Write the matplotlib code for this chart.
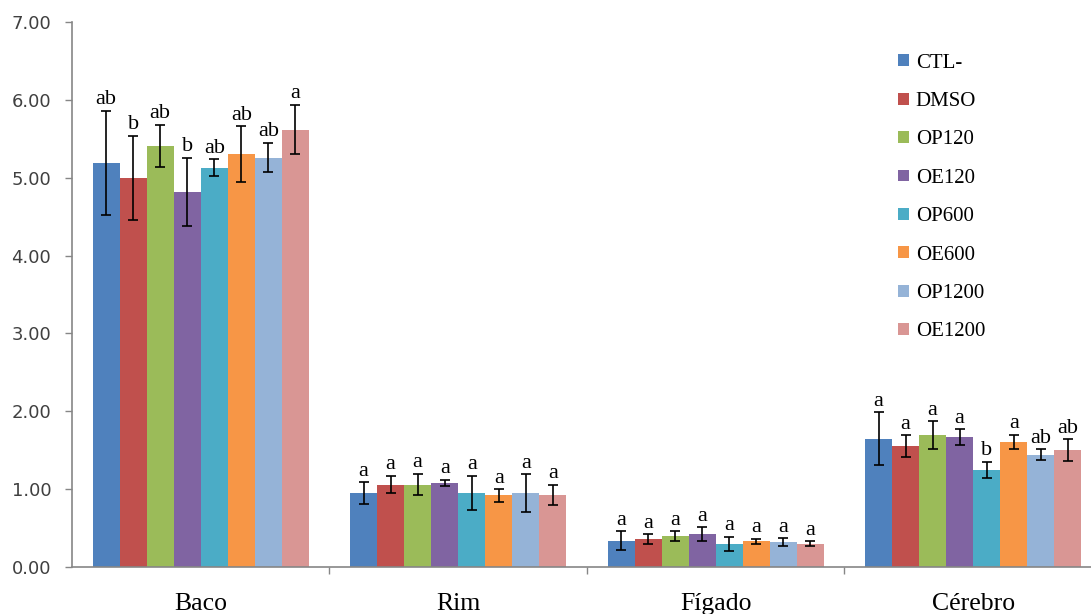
import numpy as np
import matplotlib
matplotlib.use('Agg')
import matplotlib.pyplot as plt

orgaos = ['Baco', 'Rim', 'Fígado', 'Cérebro']
grupos = ['CTL-', 'DMSO', 'OP120', 'OE120', 'OP600', 'OE600', 'OP1200', 'OE1200']
cores = ['#4F81BD', '#C0504D', '#9BBB59', '#8064A2', '#4BACC6', '#F79646', '#95B3D7', '#D99694']

# medias por orgao (linhas) e grupo (colunas)
media = [
    [5.19, 5.00, 5.41, 4.82, 5.13, 5.30, 5.26, 5.62],
    [0.95, 1.06, 1.06, 1.08, 0.95, 0.92, 0.95, 0.93],
    [0.34, 0.36, 0.40, 0.42, 0.30, 0.33, 0.32, 0.30],
    [1.65, 1.55, 1.69, 1.67, 1.25, 1.61, 1.44, 1.50],
]
# desvio padrao
dp = [
    [0.67, 0.54, 0.27, 0.44, 0.11, 0.36, 0.19, 0.32],
    [0.14, 0.11, 0.14, 0.04, 0.22, 0.08, 0.24, 0.13],
    [0.12, 0.06, 0.06, 0.09, 0.09, 0.03, 0.05, 0.03],
    [0.34, 0.14, 0.18, 0.10, 0.10, 0.09, 0.07, 0.14],
]
# letras do teste estatistico
letras = [
    ['ab', 'b', 'ab', 'b', 'ab', 'ab', 'ab', 'a'],
    ['a', 'a', 'a', 'a', 'a', 'a', 'a', 'a'],
    ['a', 'a', 'a', 'a', 'a', 'a', 'a', 'a'],
    ['a', 'a', 'a', 'a', 'b', 'a', 'ab', 'ab'],
]

media = np.array(media)
dp = np.array(dp)

fig = plt.figure(figsize=(10.91, 6.14), dpi=100)
ax = fig.add_axes([0.066, 0.0765, 0.944, 0.8875])

serif = 'Liberation Serif'
x = np.arange(len(orgaos))
larg = 0.105
for j, g in enumerate(grupos):
    pos = x + (j - 3.5) * larg
    ax.bar(pos, media[:, j], larg, color=cores[j], label=g, zorder=2)
    ax.errorbar(pos, media[:, j], yerr=dp[:, j], fmt='none', ecolor='black',
                elinewidth=1.2, capsize=3.5, capthick=1.2, zorder=3)
    for i in range(len(orgaos)):
        ax.text(pos[i], media[i, j] + dp[i, j] + 0.02, letras[i][j],
                ha='center', va='bottom', fontsize=16, family=serif, zorder=4)

ax.set_xlim(-0.5, 3.5)
ax.set_ylim(0, 7)
ax.set_yticks(np.arange(0, 8, 1))
ax.set_yticklabels(['%.2f' % v for v in np.arange(0, 8, 1)])
ax.set_xticks(x)
ax.set_xticklabels(orgaos, fontsize=18.5, family=serif)
ax.set_xticks([0.5, 1.5, 2.5], minor=True)
ax.tick_params(axis='x', which='major', length=0, pad=19)
ax.tick_params(axis='x', which='minor', length=5, color='#868686', width=1)
ax.tick_params(axis='y', length=5, color='#868686', width=1, pad=10,
               labelsize=13, labelcolor='#404040')

for s in ['top', 'right']:
    ax.spines[s].set_visible(False)
for s in ['left', 'bottom']:
    ax.spines[s].set_color('#868686')
    ax.spines[s].set_linewidth(1.2)

ax.legend(loc='upper left', bbox_to_anchor=(0.806, 0.943), bbox_transform=fig.transFigure,
          frameon=False, prop={'family': serif, 'size': 15}, handlelength=0.5,
          handleheight=0.5, handletextpad=0.35, labelspacing=0.93)

fig.savefig('out.png', dpi=100)
